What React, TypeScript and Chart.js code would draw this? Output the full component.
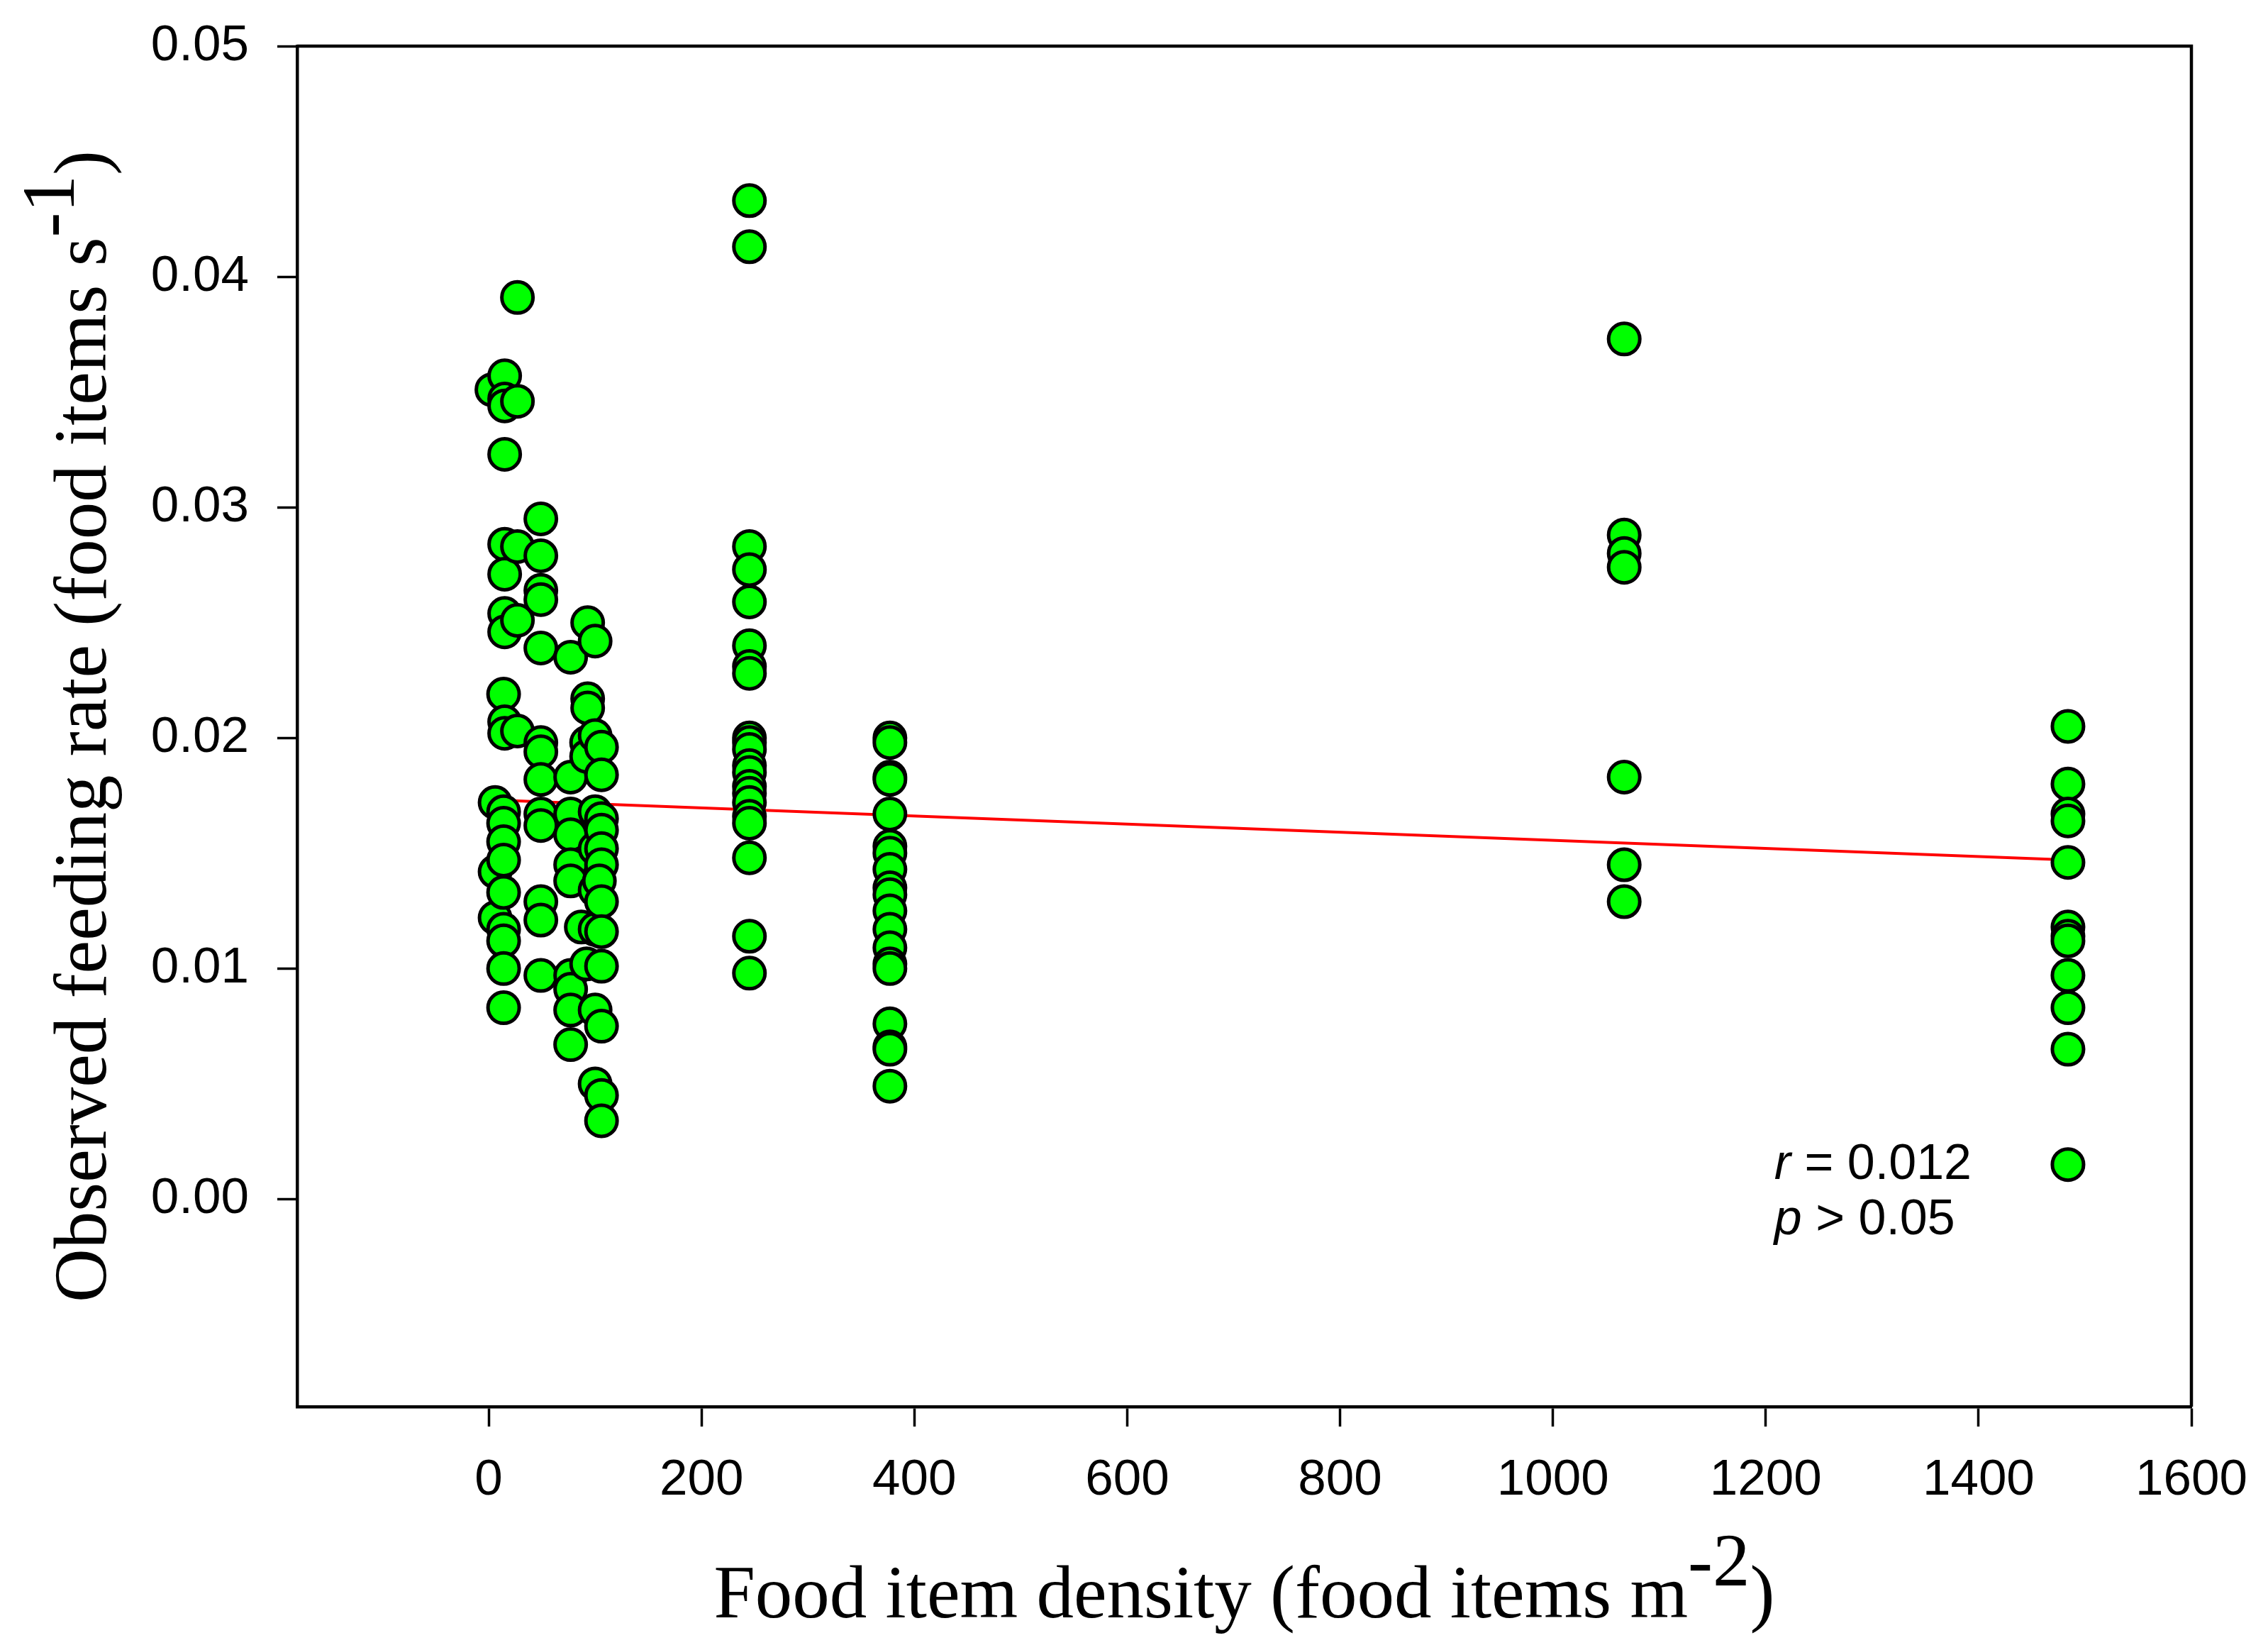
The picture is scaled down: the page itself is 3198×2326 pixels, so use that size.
import React, { useEffect, useRef } from 'react'
import { Chart, registerables } from 'chart.js'
import type { Plugin, Chart as ChartJS, Scale } from 'chart.js'

Chart.register(...registerables)

// low-density observations (x < 120)
const lowDensity = [
  3, 6, 6, 6, 15, 15, 15, 15, 15, 15, 15, 15, 14, 15, 15, 14, 14, 14, 14, 14, 14, 14, 14, 14,
  27, 27, 27, 27, 27, 49, 49, 49, 49, 49, 49, 49, 49, 49, 49, 49, 49, 49,
  77, 77, 77, 77, 77, 77, 77, 77, 77, 77, 87, 92, 93, 100, 93, 93, 92, 92,
  100, 100, 100, 100, 100, 100, 100, 106, 106, 106, 106, 106, 106, 104, 106, 106, 106, 106, 106, 106,
]
const lowRate = [
  0.0351, 0.0172, 0.0142, 0.0122, 0.0357, 0.0347, 0.0344, 0.0323, 0.0284, 0.0271, 0.0254, 0.0246,
  0.0219, 0.0207, 0.0202, 0.0168, 0.0163, 0.0155, 0.0147, 0.0133, 0.0117, 0.0112, 0.01, 0.0083,
  0.0391, 0.0346, 0.0283, 0.0251, 0.0203, 0.0295, 0.0279, 0.0264, 0.026, 0.0239, 0.0198, 0.0194,
  0.0182, 0.0167, 0.0162, 0.0129, 0.0121, 0.0097,
  0.0235, 0.0183, 0.0167, 0.0158, 0.0145, 0.0138, 0.0097, 0.0091, 0.0082, 0.0067, 0.0118, 0.0102,
  0.025, 0.0242, 0.0217, 0.0213, 0.0198, 0.0192,
  0.0201, 0.0168, 0.0152, 0.0134, 0.0117, 0.0082, 0.005, 0.0196, 0.0184, 0.0165, 0.016, 0.0152,
  0.0145, 0.0138, 0.0129, 0.0116, 0.0101, 0.0075, 0.0045, 0.0034,
]

// higher densities, one column each
const columnDensity = [245, 377, 1067, 1484]
const columnRates = [
  [0.0433, 0.0413, 0.0283, 0.0273, 0.0259, 0.024, 0.0231, 0.0228, 0.02, 0.0198, 0.0195, 0.0188,
    0.0185, 0.0179, 0.0176, 0.0172, 0.0166, 0.0163, 0.0148, 0.0114, 0.0098],
  [0.02, 0.0198, 0.0183, 0.0182, 0.0167, 0.0153, 0.015, 0.0143, 0.0135, 0.0132, 0.0125, 0.0117,
    0.0109, 0.0102, 0.01, 0.0076, 0.0066, 0.0065, 0.0049],
  [0.0373, 0.0288, 0.028, 0.0274, 0.0183, 0.0145, 0.0129],
  [0.0205, 0.018, 0.0167, 0.0164, 0.0146, 0.0118, 0.0114, 0.0112, 0.0097, 0.0083, 0.0065, 0.0015],
]

// regression line end points
const fitDensity = [5, 1484]
const fitRate = [0.01731, 0.01471]

const xTicks = [0, 200, 400, 600, 800, 1000, 1200, 1400, 1600]
const yTicks = [0, 0.01, 0.02, 0.03, 0.04, 0.05]

const serif = '"Liberation Serif", "Times New Roman", serif'
const sans = '"Liberation Sans", Arial, sans-serif'

// no automatic label overflow padding, the layout padding handles it
const noPadding = (s: Scale) => {
  s.paddingLeft = 0
  s.paddingRight = 0
  s.paddingTop = 0
  s.paddingBottom = 0
}

const decorations: Plugin<'scatter'> = {
  id: 'decorations',
  afterDraw(chart: ChartJS) {
    const { ctx, chartArea: a, scales } = chart
    ctx.save()
    // frame top + right
    ctx.strokeStyle = '#000'
    ctx.lineWidth = 4.5
    ctx.beginPath()
    ctx.moveTo(a.left, a.top)
    ctx.lineTo(a.right, a.top)
    ctx.lineTo(a.right, a.bottom)
    ctx.stroke()

    ctx.fillStyle = '#000'
    ctx.textBaseline = 'alphabetic'
    ctx.textAlign = 'left'
    const drawTitle = (main: string, sup: string, tail: string, cx: number) => {
      ctx.font = `105px ${serif}`
      const w1 = ctx.measureText(main).width
      const w2 = ctx.measureText(sup).width
      const w3 = ctx.measureText(tail).width
      const x0 = cx - (w1 + w2 + w3) / 2
      ctx.fillText(main, x0, 0)
      ctx.fillText(sup, x0 + w1, -45)
      ctx.fillText(tail, x0 + w1 + w2, 0)
    }
    // x title
    ctx.save()
    ctx.translate(0, a.bottom + 297)
    drawTitle('Food item density (food items m', '-2', ')', (a.left + a.right) / 2)
    ctx.restore()
    // y title
    ctx.save()
    ctx.translate(a.left - 270, (a.top + a.bottom) / 2)
    ctx.rotate(-Math.PI / 2)
    drawTitle('Observed feeding rate (food items s', '-1', ')', 0)
    ctx.restore()

    // r / p annotation
    const ax = scales.x.getPixelForValue(1208)
    const ay = scales.y.getPixelForValue(0.00086)
    const line = (it: string, rest: string, y: number) => {
      ctx.font = `italic 70px ${sans}`
      ctx.fillText(it, ax, y)
      const w = ctx.measureText(it).width
      ctx.font = `70px ${sans}`
      ctx.fillText(rest, ax + w, y)
    }
    line('r', ' = 0.012', ay)
    line('p', ' > 0.05', ay + 78)
    ctx.restore()
  },
}

export default function App() {
  const ref = useRef<HTMLCanvasElement | null>(null)

  useEffect(() => {
    if (!ref.current) return
    const points = lowDensity.map((x, i) => ({ x, y: lowRate[i] }))
    columnDensity.forEach((x, i) => columnRates[i].forEach((y) => points.push({ x, y })))

    const chart = new Chart(ref.current, {
      type: 'scatter',
      data: {
        datasets: [
          {
            data: points,
            backgroundColor: '#00ff00',
            borderColor: '#000000',
            borderWidth: 5,
            pointRadius: 22,
            pointHoverRadius: 22,
            order: 0,
          },
          {
            data: fitDensity.map((x, i) => ({ x, y: fitRate[i] })),
            showLine: true,
            borderColor: '#ff0000',
            borderWidth: 4,
            pointRadius: 0,
            order: 1,
          },
        ],
      },
      options: {
        animation: false,
        responsive: true,
        maintainAspectRatio: false,
        events: [],
        layout: { padding: { left: 0, right: 108, top: 65, bottom: 0 } },
        plugins: { legend: { display: false }, tooltip: { enabled: false } },
        scales: {
          x: {
            type: 'linear',
            min: -180,
            max: 1600,
            afterBuildTicks: (s) => { s.ticks = xTicks.map((value) => ({ value })) },
            afterFit: (s) => { s.height = 343; noPadding(s) },
            grid: { drawOnChartArea: false, tickLength: 28, tickWidth: 3.5, tickColor: '#000' },
            border: { display: true, color: '#000', width: 4.5 },
            ticks: {
              color: '#000',
              padding: 34,
              maxRotation: 0,
              font: { family: sans, size: 71 },
              callback: (v) => String(v),
            },
          },
          y: {
            type: 'linear',
            min: -0.009,
            max: 0.05,
            afterBuildTicks: (s) => { s.ticks = yTicks.map((value) => ({ value })) },
            afterFit: (s) => { s.width = 419; noPadding(s) },
            grid: { drawOnChartArea: false, tickLength: 28, tickWidth: 3.5, tickColor: '#000' },
            border: { display: true, color: '#000', width: 4.5 },
            ticks: {
              color: '#000',
              padding: 40,
              font: { family: sans, size: 71 },
              callback: (v) => Number(v).toFixed(2),
            },
          },
        },
      },
      plugins: [decorations],
    })
    return () => chart.destroy()
  }, [])

  return (
    <div style={{ position: 'fixed', left: 0, top: 0, width: '100vw', height: '100vh', background: '#fff' }}>
      <canvas ref={ref} />
    </div>
  )
}
